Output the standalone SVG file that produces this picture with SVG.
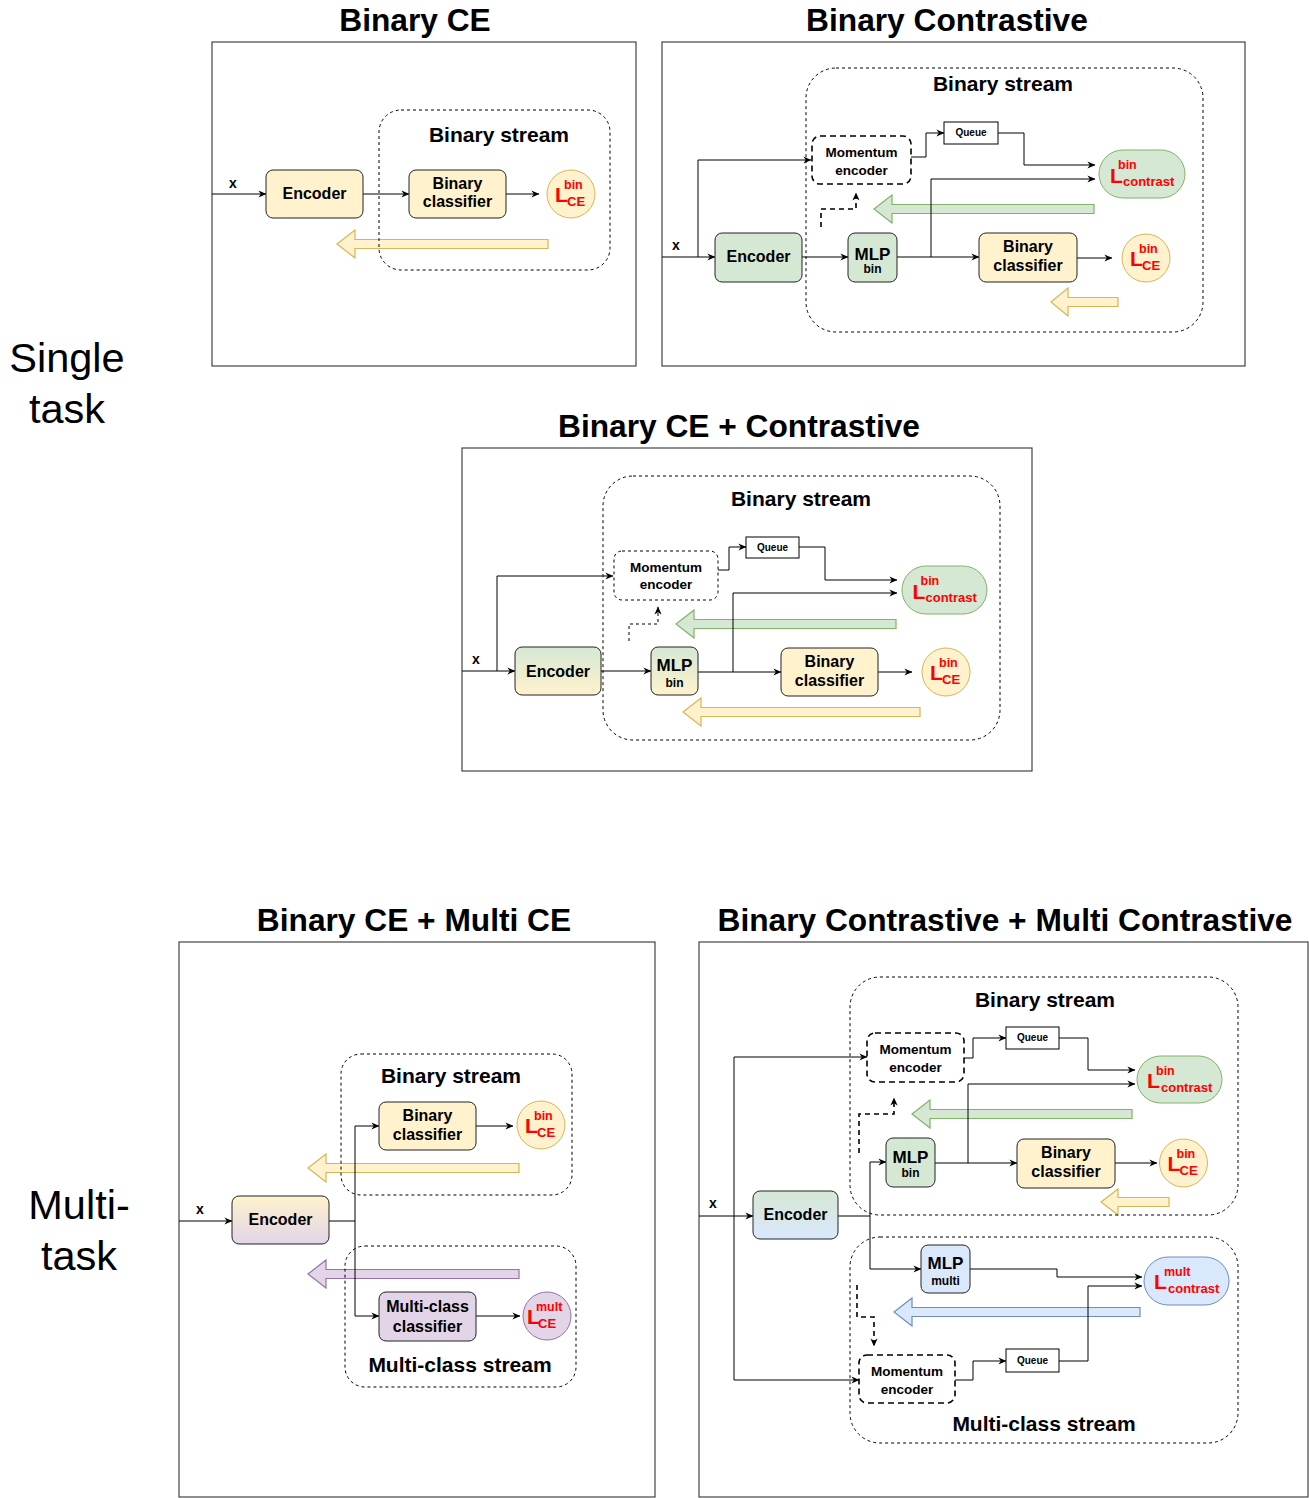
<svg xmlns="http://www.w3.org/2000/svg" width="1309" height="1498" viewBox="0 0 1309 1498">
<defs>
<marker id="ah" viewBox="0 0 10 10" refX="9.5" refY="5" markerWidth="9" markerHeight="8" markerUnits="userSpaceOnUse" orient="auto">
<path d="M0,0.5 L10,5 L0,9.5 L3,5 Z" fill="#000"/>
</marker>
<linearGradient id="gGY" x1="0" y1="0" x2="0" y2="1"><stop offset="0" stop-color="#d5e8d4"/><stop offset="1" stop-color="#fff2cc"/></linearGradient>
<linearGradient id="gYP" x1="0" y1="0" x2="0" y2="1"><stop offset="0" stop-color="#fff2cc"/><stop offset="1" stop-color="#e1d5e7"/></linearGradient>
<linearGradient id="gGB" x1="0" y1="0" x2="0" y2="1"><stop offset="0" stop-color="#d5e8d4"/><stop offset="1" stop-color="#dae8fc"/></linearGradient>
<style>
text{font-family:"Liberation Sans",Arial,sans-serif;font-weight:bold;fill:#000}
.title{font-size:31.7px;text-anchor:middle}
.side{font-size:41.5px;font-weight:normal;text-anchor:middle}
.stt{font-size:21px;text-anchor:middle}
.nt{font-size:16px;text-anchor:middle}
.mt{font-size:13.5px;text-anchor:middle}
.mlp{font-size:17px;text-anchor:middle}
.sub{font-size:12px;text-anchor:middle}
.qt{font-size:10px;text-anchor:middle}
.xt{font-size:14px}
.L{font-size:21px;fill:#ff0000}
.Ls{font-size:12.5px;fill:#ff0000}
.Lc{font-size:13px;fill:#ff0000}
.frame{fill:none;stroke:#444;stroke-width:1.2}
.stream{fill:none;stroke:#000;stroke-width:1;stroke-dasharray:3 3}
.node{stroke:#222;stroke-width:1}
.yel{fill:#fff2cc}
.grn{fill:#d5e8d4}
.blu{fill:#dae8fc}
.pur{fill:#e1d5e7}
.me{fill:#fff;stroke:#000;stroke-width:1.6;stroke-dasharray:6 4}
.me3{fill:#fff;stroke:#000;stroke-width:1;stroke-dasharray:3 3}
.q{fill:#fff;stroke:#000;stroke-width:1}
.lY{fill:#fff2cc;stroke:#d6b656}
.lG{fill:#d5e8d4;stroke:#82b366}
.lB{fill:#dae8fc;stroke:#6c8ebf}
.lP{fill:#e1d5e7;stroke:#9673a6}
.c{fill:none;stroke:#000;stroke-width:1;marker-end:url(#ah)}
.cl{fill:none;stroke:#000;stroke-width:1}
.d{fill:none;stroke:#000;stroke-width:1.6;stroke-dasharray:5 4;marker-end:url(#ah)}
.d3{fill:none;stroke:#000;stroke-width:1;stroke-dasharray:3 3;marker-end:url(#ah)}
.bY{fill:#fff2cc;stroke:#d6b656;stroke-width:1.2}
.bG{fill:#d5e8d4;stroke:#82b366;stroke-width:1.2}
.bB{fill:#dae8fc;stroke:#6c8ebf;stroke-width:1.2}
.bP{fill:#e1d5e7;stroke:#9673a6;stroke-width:1.2}
</style>
</defs>
<rect width="1309" height="1498" fill="#fff"/>

<!-- side labels -->
<text class="side" x="67" y="372">Single</text>
<text class="side" x="67" y="423">task</text>
<text class="side" x="79" y="1219">Multi-</text>
<text class="side" x="79" y="1270">task</text>

<!-- titles -->
<text class="title" x="415" y="31">Binary CE</text>
<text class="title" x="947" y="31">Binary Contrastive</text>
<text class="title" x="739" y="437">Binary CE + Contrastive</text>
<text class="title" x="414" y="931">Binary CE + Multi CE</text>
<text class="title" x="1005" y="931">Binary Contrastive + Multi Contrastive</text>

<!-- frames -->
<rect class="frame" x="212" y="42" width="424" height="324"/>
<rect class="frame" x="662" y="42" width="583" height="324"/>
<rect class="frame" x="462" y="448" width="570" height="323"/>
<rect class="frame" x="179" y="942" width="476" height="555"/>
<rect class="frame" x="699" y="942" width="609" height="555"/>

<!-- big gradient arrows -->
<g id="flow-arrows">
<polygon class="bY" points="337,244 355,230 355,239.5 548,239.5 548,248.5 355,248.5 355,258"/>
<polygon class="bG" points="874,209 892,195 892,204.5 1094,204.5 1094,213.5 892,213.5 892,223"/>
<polygon class="bY" points="1051,302 1068,288 1068,297.5 1118,297.5 1118,306.5 1068,306.5 1068,316"/>
<polygon class="bG" points="676,624 694,610 694,619.5 896,619.5 896,628.5 694,628.5 694,638"/>
<polygon class="bY" points="683,712 701,698 701,707.5 920,707.5 920,716.5 701,716.5 701,726"/>
<polygon class="bY" points="308,1168 326,1154 326,1163.5 519,1163.5 519,1172.5 326,1172.5 326,1182"/>
<polygon class="bP" points="308,1274 326,1260 326,1269.5 519,1269.5 519,1278.5 326,1278.5 326,1288"/>
<polygon class="bG" points="912,1114 930,1100 930,1109.5 1132,1109.5 1132,1118.5 930,1118.5 930,1128"/>
<polygon class="bY" points="1101,1202 1118,1189 1118,1197.5 1169,1197.5 1169,1206.5 1118,1206.5 1118,1215"/>
<polygon class="bB" points="894,1312 912,1298 912,1307.5 1140,1307.5 1140,1316.5 912,1316.5 912,1326"/>
</g>

<!-- streams -->
<g id="streams">
<rect id="s1" class="stream" x="379" y="110" width="231" height="160" rx="22"/>
<text class="stt" x="499" y="142">Binary stream</text>
<rect id="s2" class="stream" x="806" y="68" width="397" height="264" rx="30"/>
<text class="stt" x="1003" y="91">Binary stream</text>
<rect id="s3" class="stream" x="603" y="476" width="397" height="264" rx="30"/>
<text class="stt" x="801" y="506">Binary stream</text>
<rect id="s4a" class="stream" x="341" y="1054" width="231" height="141" rx="20"/>
<text class="stt" x="451" y="1083">Binary stream</text>
<rect id="s4b" class="stream" x="345" y="1246" width="231" height="141" rx="20"/>
<text class="stt" x="460" y="1372">Multi-class stream</text>
<rect id="s5a" class="stream" x="850" y="977" width="388" height="238" rx="30"/>
<text class="stt" x="1045" y="1007">Binary stream</text>
<rect id="s5b" class="stream" x="850" y="1237" width="388" height="206" rx="30"/>
<text class="stt" x="1044" y="1431">Multi-class stream</text>
</g>

<!-- connectors -->
<g id="connectors">
<!-- panel 1 -->
<path class="c" d="M212,194 H266"/>
<path class="c" d="M363,194 H409"/>
<path class="c" d="M506,194 H539"/>
<!-- panel 2 -->
<path class="c" d="M662,257 H715"/>
<path class="c" d="M698,257 V160 H811"/>
<path class="c" d="M802,257 H848"/>
<path class="c" d="M897,257 H979"/>
<path class="c" d="M931,257 V179 H1095"/>
<path class="c" d="M911,157 H926 V133 H944"/>
<path class="c" d="M998,133 H1024 V165 H1095"/>
<path class="c" d="M1077,258 H1112"/>
<path class="d" d="M821,227 V209 H856 V193"/>
<!-- panel 3 -->
<path class="c" d="M462,671 H515"/>
<path class="c" d="M497,671 V576 H613"/>
<path class="c" d="M601,671 H651"/>
<path class="c" d="M698,672 H781"/>
<path class="c" d="M733,672 V593 H897"/>
<path class="c" d="M718,570 H729 V547 H746"/>
<path class="c" d="M799,547 H825 V580 H897"/>
<path class="c" d="M878,672 H912"/>
<path class="d3" d="M629,641 V624 H658 V607"/>
<!-- panel 4 -->
<path class="c" d="M179,1221 H232"/>
<path class="cl" d="M329,1221 H355"/>
<path class="c" d="M355,1221 V1126 H379"/>
<path class="c" d="M355,1221 V1316 H379"/>
<path class="c" d="M476,1126 H513"/>
<path class="c" d="M476,1316 H520"/>
<!-- panel 5 -->
<path class="c" d="M699,1216 H753"/>
<path class="c" d="M734,1216 V1057 H867"/>
<path class="c" d="M734,1216 V1380 H859"/>
<path class="c" d="M838,1216 H870 V1162 H886"/>
<path class="c" d="M870,1216 V1269 H921"/>
<path class="c" d="M935,1163 H1017"/>
<path class="c" d="M968,1163 V1084 H1135"/>
<path class="c" d="M964,1058 H973 V1038 H1006"/>
<path class="c" d="M1059,1038 H1088 V1070 H1135"/>
<path class="c" d="M1115,1163 H1157"/>
<path class="c" d="M970,1269 H1057 V1277 H1142"/>
<path class="c" d="M955,1380 H973 V1361 H1006"/>
<path class="c" d="M1059,1361 H1088 V1286 H1142"/>
<path class="d" d="M859,1153 V1114 H894 V1098"/>
<path class="d" d="M857,1285 V1317 H874 V1346"/>
<!-- x labels -->
<text class="xt" x="229" y="188">x</text>
<text class="xt" x="672" y="250">x</text>
<text class="xt" x="472" y="664">x</text>
<text class="xt" x="196" y="1214">x</text>
<text class="xt" x="709" y="1208">x</text>
</g>

<!-- ===== Panel 1 nodes ===== -->
<g id="p1-encoder"><rect class="node yel" x="266" y="170" width="97" height="48" rx="7"/><text class="nt" x="314.5" y="199">Encoder</text></g>
<g id="p1-classifier"><rect class="node yel" x="409" y="170" width="97" height="48" rx="7"/><text class="nt" x="457.5" y="189">Binary</text><text class="nt" x="457.5" y="207">classifier</text></g>
<g id="p1-lce"><circle class="lY" cx="571" cy="194" r="24"/><text class="L" x="555" y="202">L</text><text class="Ls" x="564" y="189">bin</text><text class="Lc" x="567" y="206">CE</text></g>

<!-- ===== Panel 2 nodes ===== -->
<g id="p2-encoder"><rect class="node grn" x="715" y="233" width="87" height="49" rx="7"/><text class="nt" x="758.5" y="262">Encoder</text></g>
<g id="p2-mlp"><rect class="node grn" x="848" y="233" width="49" height="49" rx="7"/><text class="mlp" x="872.5" y="260">MLP</text><text class="sub" x="872.5" y="273">bin</text></g>
<g id="p2-momentum"><rect class="me" x="812" y="136" width="99" height="48" rx="8"/><text class="mt" x="861.5" y="157">Momentum</text><text class="mt" x="861.5" y="175">encoder</text></g>
<g id="p2-queue"><rect class="q" x="944" y="122" width="54" height="22"/><text class="qt" x="971" y="136">Queue</text></g>
<g id="p2-lcontrast"><rect class="lG" x="1099" y="150" width="86" height="48" rx="24"/><text class="L" x="1110" y="183">L</text><text class="Ls" x="1118" y="169">bin</text><text class="Lc" x="1123" y="186">contrast</text></g>
<g id="p2-classifier"><rect class="node yel" x="979" y="233" width="98" height="49" rx="7"/><text class="nt" x="1028" y="252">Binary</text><text class="nt" x="1028" y="271">classifier</text></g>
<g id="p2-lce"><circle class="lY" cx="1146" cy="258" r="24"/><text class="L" x="1130" y="266">L</text><text class="Ls" x="1139" y="253">bin</text><text class="Lc" x="1142" y="270">CE</text></g>

<!-- ===== Panel 3 nodes ===== -->
<g id="p3-encoder"><rect class="node" fill="url(#gGY)" x="515" y="647" width="86" height="48" rx="7"/><text class="nt" x="558" y="677">Encoder</text></g>
<g id="p3-mlp"><rect class="node" fill="url(#gGY)" x="651" y="647" width="47" height="48" rx="7"/><text class="mlp" x="674.5" y="671">MLP</text><text class="sub" x="674.5" y="687">bin</text></g>
<g id="p3-momentum"><rect class="me3" x="614" y="551" width="104" height="49" rx="8"/><text class="mt" x="666" y="572">Momentum</text><text class="mt" x="666" y="589">encoder</text></g>
<g id="p3-queue"><rect class="q" x="746" y="537" width="53" height="21"/><text class="qt" x="772.5" y="551">Queue</text></g>
<g id="p3-lcontrast"><rect class="lG" x="902" y="566" width="85" height="48" rx="24"/><text class="L" x="912.5" y="599">L</text><text class="Ls" x="920.5" y="585">bin</text><text class="Lc" x="925.5" y="602">contrast</text></g>
<g id="p3-classifier"><rect class="node yel" x="781" y="648" width="97" height="48" rx="7"/><text class="nt" x="829.5" y="667">Binary</text><text class="nt" x="829.5" y="686">classifier</text></g>
<g id="p3-lce"><circle class="lY" cx="946" cy="672" r="24"/><text class="L" x="930" y="680">L</text><text class="Ls" x="939" y="667">bin</text><text class="Lc" x="942" y="684">CE</text></g>

<!-- ===== Panel 4 nodes ===== -->
<g id="p4-encoder"><rect class="node" fill="url(#gYP)" x="232" y="1196" width="97" height="48" rx="7"/><text class="nt" x="280.5" y="1225">Encoder</text></g>
<g id="p4-binclassifier"><rect class="node yel" x="379" y="1102" width="97" height="48" rx="7"/><text class="nt" x="427.5" y="1121">Binary</text><text class="nt" x="427.5" y="1140">classifier</text></g>
<g id="p4-lce-bin"><circle class="lY" cx="541" cy="1125" r="24"/><text class="L" x="525" y="1133">L</text><text class="Ls" x="534" y="1120">bin</text><text class="Lc" x="537" y="1137">CE</text></g>
<g id="p4-multiclassifier"><rect class="node pur" x="379" y="1292" width="97" height="49" rx="7"/><text class="nt" x="427.5" y="1312">Multi-class</text><text class="nt" x="427.5" y="1332">classifier</text></g>
<g id="p4-lce-mult"><circle class="lP" cx="547" cy="1316" r="24"/><text class="L" x="527" y="1324">L</text><text class="Ls" x="536" y="1311">mult</text><text class="Lc" x="538" y="1328">CE</text></g>

<!-- ===== Panel 5 nodes ===== -->
<g id="p5-encoder"><rect class="node" fill="url(#gGB)" x="753" y="1191" width="85" height="48" rx="7"/><text class="nt" x="795.5" y="1220">Encoder</text></g>
<g id="p5-momentum-bin"><rect class="me" x="867" y="1033" width="97" height="49" rx="8"/><text class="mt" x="915.5" y="1054">Momentum</text><text class="mt" x="915.5" y="1072">encoder</text></g>
<g id="p5-queue-bin"><rect class="q" x="1006" y="1027" width="53" height="22"/><text class="qt" x="1032.5" y="1041">Queue</text></g>
<g id="p5-lcontrast-bin"><rect class="lG" x="1137" y="1056" width="85" height="47" rx="23.5"/><text class="L" x="1147" y="1088">L</text><text class="Ls" x="1156" y="1075">bin</text><text class="Lc" x="1161" y="1092">contrast</text></g>
<g id="p5-mlp-bin"><rect class="node grn" x="886" y="1138" width="49" height="49" rx="7"/><text class="mlp" x="910.5" y="1163">MLP</text><text class="sub" x="910.5" y="1177">bin</text></g>
<g id="p5-classifier"><rect class="node yel" x="1017" y="1139" width="98" height="49" rx="7"/><text class="nt" x="1066" y="1158">Binary</text><text class="nt" x="1066" y="1177">classifier</text></g>
<g id="p5-lce"><circle class="lY" cx="1183.5" cy="1163" r="24"/><text class="L" x="1167.5" y="1171">L</text><text class="Ls" x="1176.5" y="1158">bin</text><text class="Lc" x="1179.5" y="1175">CE</text></g>
<g id="p5-mlp-multi"><rect class="node blu" x="921" y="1245" width="49" height="48" rx="7"/><text class="mlp" x="945.5" y="1269">MLP</text><text class="sub" x="945.5" y="1285">multi</text></g>
<g id="p5-lcontrast-mult"><rect class="lB" x="1144" y="1257" width="85" height="48" rx="24"/><text class="L" x="1154" y="1289">L</text><text class="Ls" x="1164" y="1276">mult</text><text class="Lc" x="1168" y="1293">contrast</text></g>
<g id="p5-momentum-multi"><rect class="me" x="859" y="1355" width="96" height="48" rx="8"/><text class="mt" x="907" y="1376">Momentum</text><text class="mt" x="907" y="1394">encoder</text></g>
<g id="p5-queue-multi"><rect class="q" x="1006" y="1349" width="53" height="23"/><text class="qt" x="1032.5" y="1364">Queue</text></g>
</svg>
